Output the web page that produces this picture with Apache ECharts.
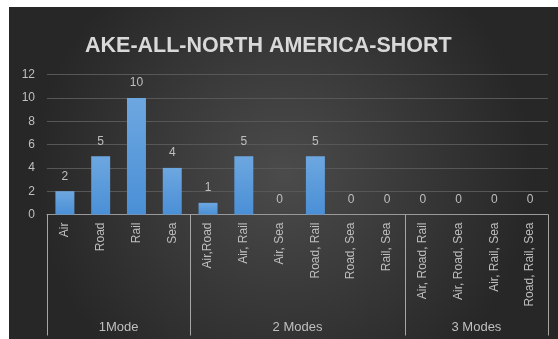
<!DOCTYPE html>
<html>
<head>
<meta charset="utf-8">
<script src="https://cdn.jsdelivr.net/npm/echarts@6/dist/echarts.min.js"></script>
<style>
html,body{margin:0;padding:0;background:#fff;width:558px;height:339px;overflow:hidden;}
#c{position:absolute;left:9px;top:7px;width:549px;height:332px;}
</style>
</head>
<body>
<div id="c"></div>
<script>
var title = 'AKE-ALL-NORTH AMERICA-SHORT';
var categories = ['Air', 'Road', 'Rail', 'Sea', 'Air,Road', 'Air, Rail', 'Air, Sea', 'Road, Rail', 'Road, Sea', 'Rail, Sea', 'Air, Road, Rail', 'Air, Road, Sea', 'Air, Rail, Sea', 'Road, Rail, Sea'];
var values = [2, 5, 10, 4, 1, 5, 0, 5, 0, 0, 0, 0, 0, 0];
var groupNames = ['1Mode', '2 Modes', '3 Modes'];
var groupSizes = [4, 6, 4];
var yTicks = [0, 2, 4, 6, 8, 10, 12];

// derive group boundaries and centers from sizes
var bounds = [0], centers = [];
groupSizes.forEach(function (s, i) {
  var start = bounds[bounds.length - 1];
  centers.push(start + s / 2);
  bounds.push(start + s);
});

var labelColor = '#bfbfbf';
var font = '"Liberation Sans", Arial, sans-serif';

var chart = echarts.init(document.getElementById('c'));
chart.setOption({
  backgroundColor: {
    type: 'radial', x: 0.5, y: 0.5, r: 0.75,
    colorStops: [{offset: 0, color: '#4b4b4b'}, {offset: 1, color: '#272727'}]
  },
  animation: false,
  title: {
    text: title, left: 71, top: 23,
    textStyle: {color: '#d9d9d9', fontSize: 21.5, fontWeight: 'bold', fontFamily: font}
  },
  grid: {left: 38, right: 10, top: 67.7, bottom: 124.5, containLabel: false},
  xAxis: [{
    type: 'category', data: categories,
    axisLine: {lineStyle: {color: '#999', width: 1}},
    axisTick: {show: false},
    axisLabel: {rotate: 90, interval: 0, color: labelColor, fontSize: 12, fontFamily: font, margin: 8}
  }, {
    type: 'value', min: 0, max: bounds[bounds.length - 1], position: 'bottom',
    axisLine: {show: false},
    splitLine: {show: false},
    axisTick: {show: true, customValues: bounds, length: 121, lineStyle: {color: '#a6a6a6', width: 1}},
    axisLabel: {
      customValues: centers, color: labelColor, fontSize: 13, fontFamily: font, margin: 106,
      formatter: function (v) { var i = centers.indexOf(v); return i >= 0 ? groupNames[i] : ''; }
    }
  }],
  yAxis: {
    type: 'value', min: yTicks[0], max: yTicks[yTicks.length - 1], interval: 2,
    axisLine: {show: false}, axisTick: {show: false},
    axisLabel: {color: labelColor, fontSize: 12, fontFamily: font, margin: 12},
    splitLine: {lineStyle: {color: '#575757', width: 1}}
  },
  series: [{
    type: 'bar', data: values, xAxisIndex: 0, barWidth: '53%',
    itemStyle: {
      color: {type: 'linear', x: 0, y: 0, x2: 0, y2: 1,
        colorStops: [{offset: 0, color: '#6da7e0'}, {offset: 1, color: '#4a8fd6'}]}
    },
    label: {show: true, position: 'top', distance: 9, color: labelColor, fontSize: 12, fontFamily: font}
  }]
});
</script>
</body>
</html>
